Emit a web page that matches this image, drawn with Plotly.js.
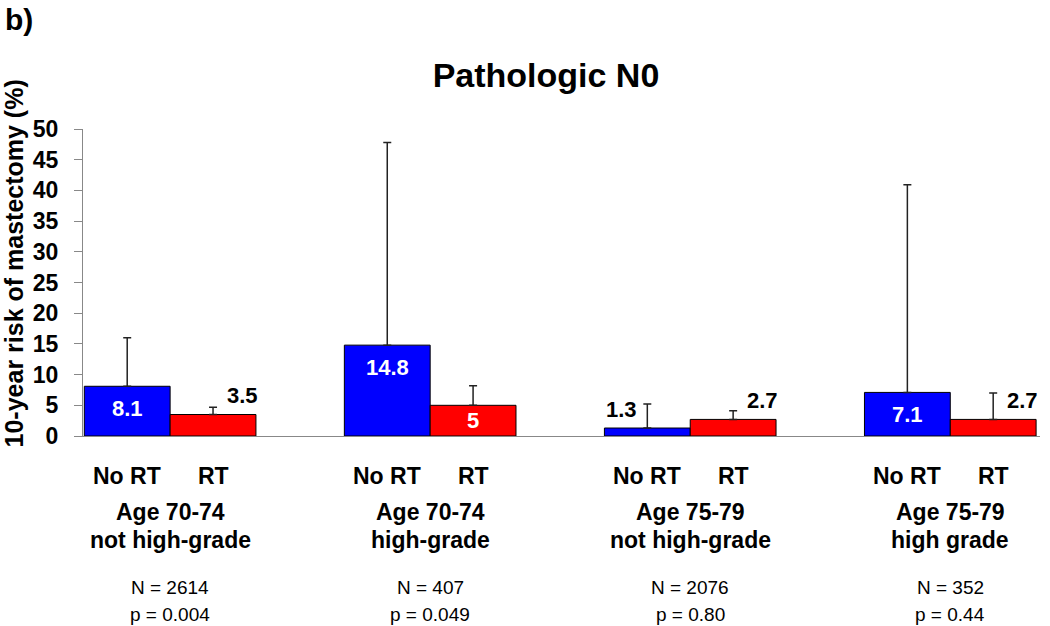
<!DOCTYPE html>
<html>
<head>
<meta charset="utf-8">
<script src="https://cdn.plot.ly/plotly-3.0.1.min.js"></script>
<style>html,body{margin:0;padding:0;background:#fff;}#chart{width:1050px;height:626px;}</style>
</head>
<body>
<div id="chart"></div>
<script>
// ---- data ----
const groups = ["Age 70-74|not high-grade", "Age 70-74|high-grade", "Age 75-79|not high-grade", "Age 75-79|high grade"];
const groupLine1 = ["Age 70-74", "Age 70-74", "Age 75-79", "Age 75-79"];
const groupLine2 = ["not high-grade", "high-grade", "not high-grade", "high grade"];
const seriesNames = ["No RT", "RT"];
const noRT = [8.1, 14.8, 1.3, 7.1];
const rt = [3.5, 5, 2.7, 2.7];
const noRTUpper = [16.0, 47.8, 5.2, 40.9];
const rtUpper = [4.7, 8.2, 4.1, 7.0];
const nValues = ["N = 2614", "N = 407", "N = 2076", "N = 352"];
const pValues = ["p = 0.004", "p = 0.049", "p = 0.80", "p = 0.44"];
// label inside the bar (white) or above it (black)
const noRTInside = [true, true, false, true];
const rtInside = [false, true, false, false];
const yTicks = [0, 5, 10, 15, 20, 25, 30, 35, 40, 45, 50];
const yTitle = '10-year risk of mastectomy (%)';

// ---- style ----
const FONT = '"Liberation Sans", Arial, sans-serif';
const BLUE = '#0000FF', RED = '#FF0000';
const BARGAP = 0.34;
const barW = (1 - BARGAP) / 2;
const margin = {l: 83, r: 10, t: 129, b: 190};
const plotH = 626 - margin.t - margin.b;
const yMax = 50;
const pxPerUnit = plotH / yMax;

const idx = groups.map((g, i) => i);

function errTrace(vals, upper) {
  return {type: 'data', symmetric: false, array: upper.map((u, i) => u - vals[i]),
          arrayminus: vals.map(() => 0), color: '#222', thickness: 1.5, width: 4};
}

const traces = [
  {type: 'bar', name: seriesNames[0], x: idx, y: noRT, marker: {color: BLUE, line: {color: '#000', width: 1}},
   error_y: errTrace(noRT, noRTUpper), hoverinfo: 'y'},
  {type: 'bar', name: seriesNames[1], x: idx, y: rt, marker: {color: RED, line: {color: '#000', width: 1}},
   error_y: errTrace(rt, rtUpper), hoverinfo: 'y'}
];

const annotations = [];
function valueLabels(vals, inside, offset, outsideShift) {
  vals.forEach((v, i) => {
    if (inside[i]) {
      annotations.push({x: i + offset, y: v, xref: 'x', yref: 'y', text: String(v), showarrow: false,
        font: {family: FONT, size: 22, color: '#fff', weight: 700}, yanchor: 'middle',
        yshift: -Math.min(22, v * pxPerUnit / 2)});
    } else {
      annotations.push({x: i + offset, y: v, xref: 'x', yref: 'y', text: String(v), showarrow: false,
        font: {family: FONT, size: 22, color: '#000', weight: 700}, yanchor: 'middle',
        xshift: outsideShift[i], yshift: 19});
    }
  });
}
valueLabels(noRT, noRTInside, -barW / 2, [0, 0, -26, 0]);
valueLabels(rt, rtInside, barW / 2, [29, 0, 29, 29]);

idx.forEach(i => {
  annotations.push({x: i - barW / 2, y: 0, xref: 'x', yref: 'paper', text: seriesNames[0], showarrow: false,
    font: {family: FONT, size: 23, color: '#000', weight: 700}, yanchor: 'middle', yshift: -40});
  annotations.push({x: i + barW / 2, y: 0, xref: 'x', yref: 'paper', text: seriesNames[1], showarrow: false,
    font: {family: FONT, size: 23, color: '#000', weight: 700}, yanchor: 'middle', yshift: -40});
  annotations.push({x: i, y: 0, xref: 'x', yref: 'paper', text: groupLine1[i], showarrow: false,
    font: {family: FONT, size: 23, color: '#000', weight: 700}, yanchor: 'middle', yshift: -76});
  annotations.push({x: i, y: 0, xref: 'x', yref: 'paper', text: groupLine2[i], showarrow: false,
    font: {family: FONT, size: 23, color: '#000', weight: 700}, yanchor: 'middle', yshift: -104});
  annotations.push({x: i, y: 0, xref: 'x', yref: 'paper', text: nValues[i], showarrow: false,
    font: {family: FONT, size: 19, color: '#000'}, yanchor: 'middle', yshift: -151});
  annotations.push({x: i, y: 0, xref: 'x', yref: 'paper', text: pValues[i], showarrow: false,
    font: {family: FONT, size: 19, color: '#000'}, yanchor: 'middle', yshift: -178});
});

// y-axis title, placed as a rotated annotation
annotations.push({x: 0, y: 0.562, xref: 'paper', yref: 'paper', text: yTitle, showarrow: false, textangle: -90,
  font: {family: FONT, size: 25, color: '#000', weight: 700}, xanchor: 'center', yanchor: 'middle',
  borderpad: 0, xshift: -69});

annotations.push({x: 0, y: 1, xref: 'paper', yref: 'paper', text: 'b)', showarrow: false,
  font: {family: FONT, size: 30, color: '#000', weight: 700}, xanchor: 'left', yanchor: 'top',
  xshift: -80, yshift: 128});

const layout = {
  width: 1050, height: 626,
  margin: margin,
  paper_bgcolor: '#fff', plot_bgcolor: '#fff',
  showlegend: false,
  barmode: 'group', bargap: BARGAP, bargroupgap: 0,
  title: {text: 'Pathologic N0', font: {family: FONT, size: 34, color: '#000', weight: 700},
          x: 0.52, xanchor: 'center', y: 0.88, yanchor: 'middle'},
  xaxis: {type: 'linear', range: [-0.335, 3.345], showgrid: false, zeroline: false, showline: true,
          linecolor: '#888', linewidth: 1, showticklabels: false, ticks: ''},
  yaxis: {range: [0, yMax], tickvals: yTicks, showgrid: false, zeroline: false, showline: true,
          linecolor: '#888', linewidth: 1, ticks: 'outside', ticklen: 8, tickcolor: '#888',
          ticklabelstandoff: 11,
          tickfont: {family: FONT, size: 23, color: '#000', weight: 700}},
  annotations: annotations
};

Plotly.newPlot('chart', traces, layout, {displayModeBar: false, staticPlot: true});
</script>
</body>
</html>
